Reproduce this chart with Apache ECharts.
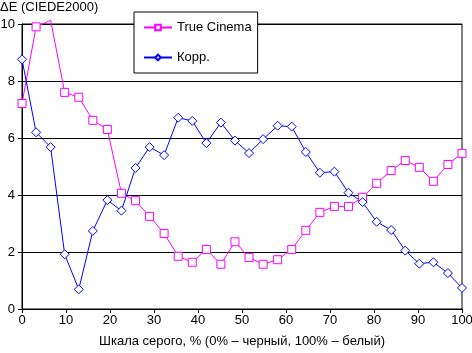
<!DOCTYPE html>
<html>
<head>
<meta charset="utf-8">
<script src="https://cdn.jsdelivr.net/npm/echarts@6/dist/echarts.min.js"></script>
<style>
  html, body { margin: 0; padding: 0; background: #fff; }
  #chart { width: 472px; height: 353px; }
</style>
</head>
<body>
<div id="chart"></div>
<script>
// уровни серого, %
const grayLevels = [0, 3.2, 6.5, 9.7, 12.9, 16.1, 19.4, 22.6, 25.8, 29.0, 32.3, 35.5, 38.7, 41.9, 45.2, 48.4,
  51.6, 54.8, 58.1, 61.3, 64.5, 67.7, 71.0, 74.2, 77.4, 80.6, 83.9, 87.1, 90.3, 93.5, 96.8, 100]
// dE для True Cinema
const trueCinema = [7.21, 9.9, 10.13, 7.6, 7.43, 6.62, 6.30, 4.06, 3.80, 3.25, 2.65, 1.85, 1.64, 2.09, 1.57, 2.36,
  1.81, 1.57, 1.73, 2.09, 2.76, 3.39, 3.60, 3.60, 3.92, 4.41, 4.86, 5.21, 4.97, 4.48, 5.07, 5.46]
// dE после коррекции
const corrected = [8.76, 6.20, 5.68, 1.92, 0.69, 2.74, 3.82, 3.45, 4.95, 5.68, 5.40, 6.71, 6.60, 5.82, 6.54, 5.91,
  5.47, 5.96, 6.43, 6.40, 5.51, 4.78, 4.82, 4.08, 3.75, 3.06, 2.77, 2.05, 1.59, 1.64, 1.26, 0.74]
const seriesNames = ['True Cinema', 'Корр.']
const yMax = 10

const font = 'Arial, "Liberation Sans", sans-serif'

function makeData (values) {
  // точки выше шкалы рисуются без маркера, как в оригинале
  return values.map((v, i) => {
    if (v > yMax) {
      return { value: [grayLevels[i], v], symbol: 'none' }
    }
    return [grayLevels[i], v]
  })
}

const chart = echarts.init(document.getElementById('chart'), null, { renderer: 'canvas' })
const option = {
  animation: false,
  textStyle: { fontFamily: font },
  title: {
    text: 'ΔE (CIEDE2000)',
    left: -5,
    top: -4,
    textStyle: { fontFamily: font, fontSize: 13, fontWeight: 'normal', color: '#000' }
  },
  legend: {
    data: seriesNames,
    orient: 'vertical',
    left: 134,
    top: 12,
    backgroundColor: '#fff',
    borderColor: '#000',
    borderWidth: 1,
    borderRadius: 0,
    padding: [8, 6, 8, 9],
    itemGap: 15,
    itemWidth: 28,
    itemHeight: 7,
    textStyle: { fontFamily: font, fontSize: 13, color: '#000', lineHeight: 15 }
  },
  grid: {
    left: 22,
    right: 10,
    top: 24,
    bottom: 44,
    outerBoundsMode: 'none',
    containLabel: false,
    show: true,
    borderColor: '#000',
    borderWidth: 1,
    backgroundColor: 'transparent'
  },
  xAxis: {
    type: 'value',
    min: 0,
    max: 100,
    interval: 10,
    name: 'Шкала серого, % (0% – черный, 100% – белый)',
    nameLocation: 'middle',
    nameGap: 26,
    nameTextStyle: { fontFamily: font, fontSize: 13, color: '#000' },
    axisLine: { lineStyle: { color: '#000', width: 1 } },
    axisTick: { show: true, length: 4, lineStyle: { color: '#000' } },
    axisLabel: { fontFamily: font, fontSize: 13, color: '#000', margin: 5 },
    splitLine: { show: false }
  },
  yAxis: {
    type: 'value',
    min: 0,
    max: yMax,
    interval: 2,
    axisLine: { show: true, lineStyle: { color: '#000', width: 1 } },
    axisTick: { show: true, length: 4, lineStyle: { color: '#000' } },
    axisLabel: { fontFamily: font, fontSize: 13, color: '#000', margin: 7 },
    splitLine: { show: true, lineStyle: { color: '#000', width: 1 } }
  },
  series: [
    {
      name: seriesNames[0],
      type: 'line',
      data: makeData(trueCinema),
      clip: false,
      symbol: 'rect',
      symbolSize: 8,
      lineStyle: { color: '#ff00ff', width: 1 },
      itemStyle: { color: '#fff', borderColor: '#ff00ff', borderWidth: 1 }
    },
    {
      name: seriesNames[1],
      type: 'line',
      data: makeData(corrected),
      clip: false,
      symbol: 'diamond',
      symbolSize: 9,
      lineStyle: { color: '#0000ff', width: 1 },
      itemStyle: { color: '#fff', borderColor: '#0000ff', borderWidth: 1 }
    }
  ]
}
chart.setOption(option)
</script>
</body>
</html>
